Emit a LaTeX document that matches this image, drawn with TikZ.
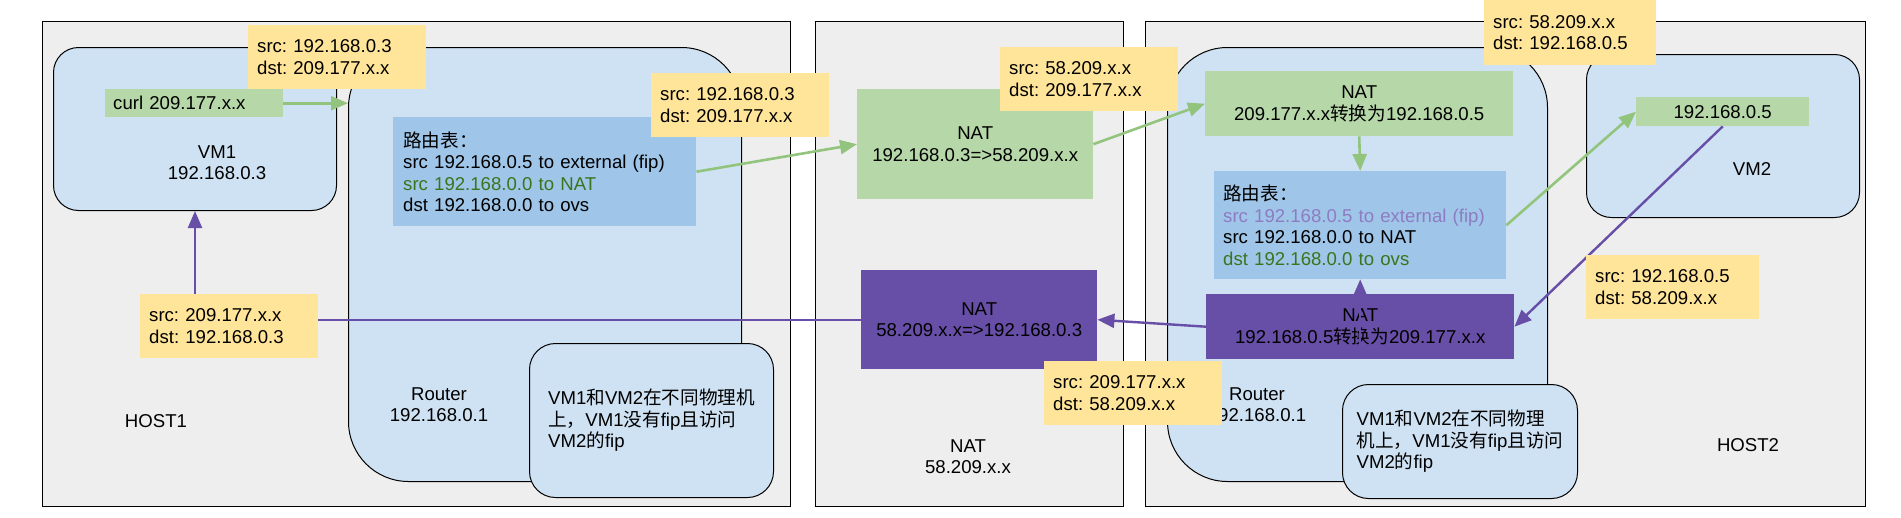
\documentclass[tikz,border=0pt]{standalone}
\usepackage{fontspec}
\setmainfont{Liberation Sans}
\newfontfamily\cjkfont{Noto Sans CJK SC}
\newcommand{\zh}[1]{{\cjkfont #1}}
\usetikzlibrary{arrows.meta}
\frenchspacing

\definecolor{hostgray}{HTML}{EEEEEE}
\definecolor{lblue}{HTML}{CFE2F3}
\definecolor{tblue}{HTML}{9FC5E8}
\definecolor{lgreen}{HTML}{B6D7A8}
\definecolor{agreen}{HTML}{93C47D}
\definecolor{pyellow}{HTML}{FFE599}
\definecolor{dpurple}{HTML}{674EA7}
\definecolor{tpurple}{HTML}{8E7CC3}
\definecolor{tgreen}{HTML}{38761D}

\tikzset{
	every node/.style={font=\fontsize{18.6}{21.6}\selectfont\frenchspacing, inner sep=0pt},
	host/.style={draw=black, line width=1pt, fill=hostgray, anchor=north west},
	router/.style={draw=black, line width=1pt, fill=lblue, anchor=north west, rounded corners=60pt},
	vmbox/.style={draw=black, line width=1pt, fill=lblue, anchor=north west, rounded corners=25pt},
	note/.style={draw=black, line width=1pt, fill=lblue, anchor=north west, rounded corners=26pt, align=left},
	natg/.style={fill=lgreen, anchor=north west, align=center},
	natp/.style={fill=dpurple, anchor=north west, align=center},
	rtab/.style={fill=tblue, anchor=north west, align=left, inner xsep=10pt},
	pkt/.style={fill=pyellow, anchor=north west, align=left, inner xsep=9pt, text width=160pt, minimum height=64pt},
	garr/.style={draw=agreen, line width=2.6pt, -{Triangle[length=17pt,width=14pt]}},
	parr/.style={draw=dpurple, line width=2.4pt, -{Triangle[length=17pt,width=14pt]}}
}

\begin{document}
\begin{tikzpicture}[x=1pt,y=-1pt]
	\useasboundingbox (0,0) rectangle (1901,517);

	% hosts
	\node[host, minimum width=748pt, minimum height=485pt] (host1) at (42,21) {};
	\node[host, minimum width=308pt, minimum height=485pt] (natcol) at (815,21) {};
	\node[host, minimum width=720pt, minimum height=485pt] (host2) at (1145,21) {};
	\node (host1lbl) at (156,421) {HOST1};
	\node[align=center] (natlbl) at (968,456.5) {NAT\\58.209.x.x};
	\node (host2lbl) at (1748,445) {HOST2};

	% routers and vms
	\node[router, minimum width=393pt, minimum height=434pt] (rt1) at (348,47) {};
	\node[router, minimum width=380pt, minimum height=434pt] (rt2) at (1167,47) {};
	\node[align=center] (rt1lbl) at (439,404.5) {Router\\192.168.0.1};
	\node[align=center] (rt2lbl) at (1257,404.5) {Router\\192.168.0.1};

	\node[vmbox, minimum width=283pt, minimum height=163pt] (vm1) at (53,47) {};
	\node[align=center] (vm1lbl) at (217,162.5) {VM1\\192.168.0.3};
	\node[vmbox, minimum width=273pt, minimum height=163pt] (vm2) at (1586,54) {};
	\node (vm2lbl) at (1752,169) {VM2};

	\node[note, minimum width=244pt, minimum height=154pt] (note1) at (529,343)
		{VM1\zh{和}VM2\zh{在不同物理机}\\\zh{上，}VM1\zh{没有}fip\zh{且访问}\\VM2\zh{的}fip};
	\node[note, minimum width=235pt, minimum height=114pt] (note2) at (1342,384)
		{VM1\zh{和}VM2\zh{在不同物理}\\\zh{机上，}VM1\zh{没有}fip\zh{且访问}\\VM2\zh{的}fip};

	% inner boxes
	\node[natg, align=left, inner xsep=8pt, text width=162pt, minimum height=28pt] (curl) at (105,89) {curl 209.177.x.x};
	\node[rtab, text width=283pt, minimum height=109pt] (rt1tab) at (393,117)
		{\zh{路由表：}\\src 192.168.0.5 to external (fip)\\\textcolor{tgreen}{src 192.168.0.0 to NAT}\\dst 192.168.0.0 to ovs};
	\node[natg, minimum width=236pt, minimum height=110pt] (nat1g) at (857,89) {NAT\\192.168.0.3=>58.209.x.x};
	\node[natp, minimum width=236pt, minimum height=99pt] (nat1p) at (861,270) {NAT\\58.209.x.x=>192.168.0.3};
	\node[natg, minimum width=308pt, minimum height=65pt] (nat2g) at (1205,71) {NAT\\209.177.x.x\zh{转换为}192.168.0.5};
	\node[rtab, inner xsep=9pt, text width=274pt, minimum height=108pt] (rt2tab) at (1214,171)
		{\zh{路由表：}\\\textcolor{tpurple}{src 192.168.0.5 to external (fip)}\\src 192.168.0.0 to NAT\\\textcolor{tgreen}{dst 192.168.0.0 to ovs}};
	\node[natp, minimum width=308pt, minimum height=65pt] (nat2p) at (1206,294) {NAT\\192.168.0.5\zh{转换为}209.177.x.x};
	\node[natg, minimum width=173pt, minimum height=29pt] (vm2ip) at (1636,97) {192.168.0.5};

	% connectors
	\draw[garr] (curl.east) -- (curl.east -| rt1.west);
	\draw[garr] (rt1tab.east) -- (nat1g.west);
	\draw[garr] (nat1g.east) -- (nat2g.west);
	\draw[garr] (nat2g.south) -- (rt2tab.north);
	\draw[garr] (rt2tab.east) -- (vm2ip.west);
	\draw[parr] (vm2ip.south) -- (nat2p.east);
	\draw[parr] (nat2p.south) -- (rt2tab.south);
	\draw[parr] (nat2p.west) -- (nat1p.east);
	\draw[parr] (nat1p.west) -| (vm1.south);

	% packets
	\node[pkt] (pkt1) at (248,25) {src: 192.168.0.3\\dst: 209.177.x.x};
	\node[pkt] (pkt2) at (651,73) {src: 192.168.0.3\\dst: 209.177.x.x};
	\node[pkt] (pkt3) at (1000,47) {src: 58.209.x.x\\dst: 209.177.x.x};
	\node[pkt] (pkt4) at (140,294) {src: 209.177.x.x\\dst: 192.168.0.3};
	\node[pkt] (pkt5) at (1044,361) {src: 209.177.x.x\\dst: 58.209.x.x};
	\node[pkt, text width=154pt, minimum height=65pt] (pkt6) at (1484,0) {src: 58.209.x.x\\dst: 192.168.0.5};
	\node[pkt, text width=155pt] (pkt7) at (1586,255) {src: 192.168.0.5\\dst: 58.209.x.x};
\end{tikzpicture}
\end{document}
